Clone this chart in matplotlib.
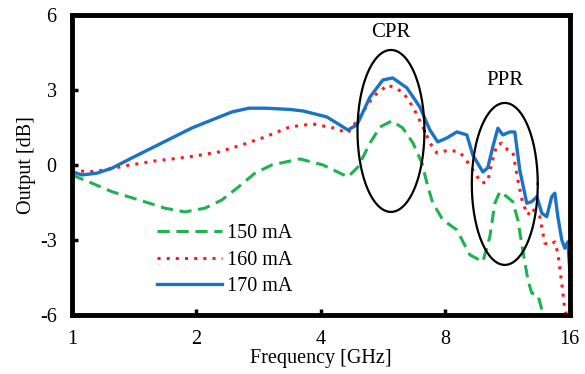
import numpy as np
import matplotlib
matplotlib.use("Agg")
import matplotlib.pyplot as plt

plt.rcParams['font.family'] = ['Liberation Serif', 'DejaVu Serif']
plt.rcParams['font.size'] = 14.5
plt.rcParams['axes.unicode_minus'] = False

# 170 mA (blue, solid)
f_170 = [1.0, 1.057, 1.149, 1.249, 1.396, 1.561, 1.745, 1.951, 2.18, 2.437, 2.679, 2.93,
         3.366, 3.62, 4.135, 4.65, 4.89, 5.26, 5.65, 5.97, 6.46, 6.94, 7.34, 7.67, 8.07,
         8.53, 9.02, 9.32, 9.86, 10.13, 10.42, 10.72, 11.02, 11.46, 11.78, 12.11, 12.59,
         12.95, 13.32, 13.69, 14.07, 14.47, 14.72, 14.97, 15.30, 15.56, 15.82, 16.0]
v_170 = [-0.27, -0.4, -0.33, -0.13, 0.28, 0.68, 1.08, 1.48, 1.8, 2.12, 2.27, 2.27,
         2.22, 2.16, 1.92, 1.4, 1.6, 2.72, 3.4, 3.48, 3.08, 2.32, 1.4, 0.92, 1.08,
         1.32, 1.2, 0.4, -0.28, -0.12, 0.72, 1.47, 1.2, 1.32, 1.32, -0.2, -1.53,
         -1.47, -1.27, -1.93, -2.07, -1.27, -1.13, -2.07, -3.0, -3.33, -3.08, -4.2]

# 160 mA (red, dotted)
f_160 = [1.0, 1.099, 1.202, 1.343, 1.587, 1.918, 2.267, 2.576, 2.93, 3.366, 3.826, 4.28,
         4.65, 4.97, 5.34, 5.81, 6.31, 6.68, 7.06, 7.34, 7.63, 8.2, 8.67, 8.92, 9.43,
         9.80, 10.13, 10.36, 10.66, 10.96, 11.33, 11.65, 11.98, 12.31, 12.67, 12.95,
         13.54, 13.92, 14.31, 14.72, 14.97, 15.30, 15.56, 15.7]
v_160 = [-0.2, -0.28, -0.2, -0.04, 0.16, 0.32, 0.52, 0.8, 1.12, 1.52, 1.64, 1.48,
         1.28, 1.92, 2.72, 3.2, 2.92, 2.32, 1.52, 0.88, 0.48, 0.6, 0.5, 0.28, -0.33,
         -0.73, -0.67, 0.08, 0.8, 0.87, 0.6, 0.53, -0.6, -1.53, -2.0, -1.73,
         -2.07, -3.13, -3.2, -3.08, -3.53, -4.73, -5.8, -6.0]

# 150 mA (green, dashed)
f_150 = [1.0, 1.118, 1.249, 1.452, 1.678, 1.876, 2.097, 2.305, 2.533, 2.77, 3.045, 3.56,
         4.045, 4.65, 4.92, 5.26, 5.56, 5.94, 6.31, 6.68, 7.02, 7.26, 7.46, 7.89, 8.53,
         9.17, 9.86, 10.25, 10.54, 10.84, 11.27, 11.65, 11.98, 12.31, 12.67, 12.95,
         13.39, 13.77]
v_150 = [-0.4, -0.73, -1.07, -1.4, -1.73, -1.88, -1.73, -1.4, -0.87, -0.33, 0.0, 0.24,
         0.0, -0.48, -0.08, 0.88, 1.52, 1.76, 1.48, 0.88, 0.08, -0.88, -1.52, -2.2, -2.6,
         -3.6, -3.87, -2.87, -1.53, -1.07, -1.27, -1.47, -2.2, -3.4, -4.6, -5.13,
         -5.2, -5.93]

# ellipses: name, centre freq, centre dB, half width (octaves), half height (dB), label y
regions = [("CPR", 5.91, 1.36, 0.269, 3.24, 5.3),
           ("PPR", 11.14, -0.76, 0.265, 3.24, 3.36)]

fig = plt.figure(figsize=(5.85, 3.74), dpi=100)
ax = fig.add_axes([0.123, 0.158, 0.851, 0.802])

ax.plot(f_150, v_150, color='#1db34f', lw=2.2, ls=(0, (4, 2.2)), label='150 mA')
ax.plot(f_160, v_160, color='#ff1a1a', lw=2.2, ls=(0, (1, 2)), label='160 mA')
ax.plot(f_170, v_170, color='#1a73c4', lw=2.4, label='170 mA')

t = np.linspace(0, 2 * np.pi, 200)
for name, fc, yc, a, b, ty in regions:
    ax.plot(fc * 2 ** (a * np.cos(t)), yc + b * np.sin(t), color='black', lw=1.6)
    ax.text(fc, ty, name, ha='center', va='center', fontsize=15)

ax.set_xscale('log', base=2)
ax.set_xlim(1, 16)
ax.set_ylim(-6, 6)
ax.set_xticks([1, 2, 4, 8, 16])
ax.set_xticklabels(['1', '2', '4', '8', '16'])
ax.xaxis.set_minor_locator(matplotlib.ticker.NullLocator())
ax.set_yticks([-6, -3, 0, 3, 6])
ax.tick_params(direction='in', length=4, width=2.5, pad=11)

for s in ax.spines.values():
    s.set_linewidth(3.5)

ax.set_xlabel('Frequency [GHz]', labelpad=0)
ax.set_ylabel('Output [dB]', labelpad=3)

ax.legend(frameon=False, loc='center left', bbox_to_anchor=(0.171, 0.183),
          borderpad=0, borderaxespad=0, handlelength=3.2, handletextpad=0.25,
          labelspacing=0.36)

fig.savefig('out.png', dpi=100)
